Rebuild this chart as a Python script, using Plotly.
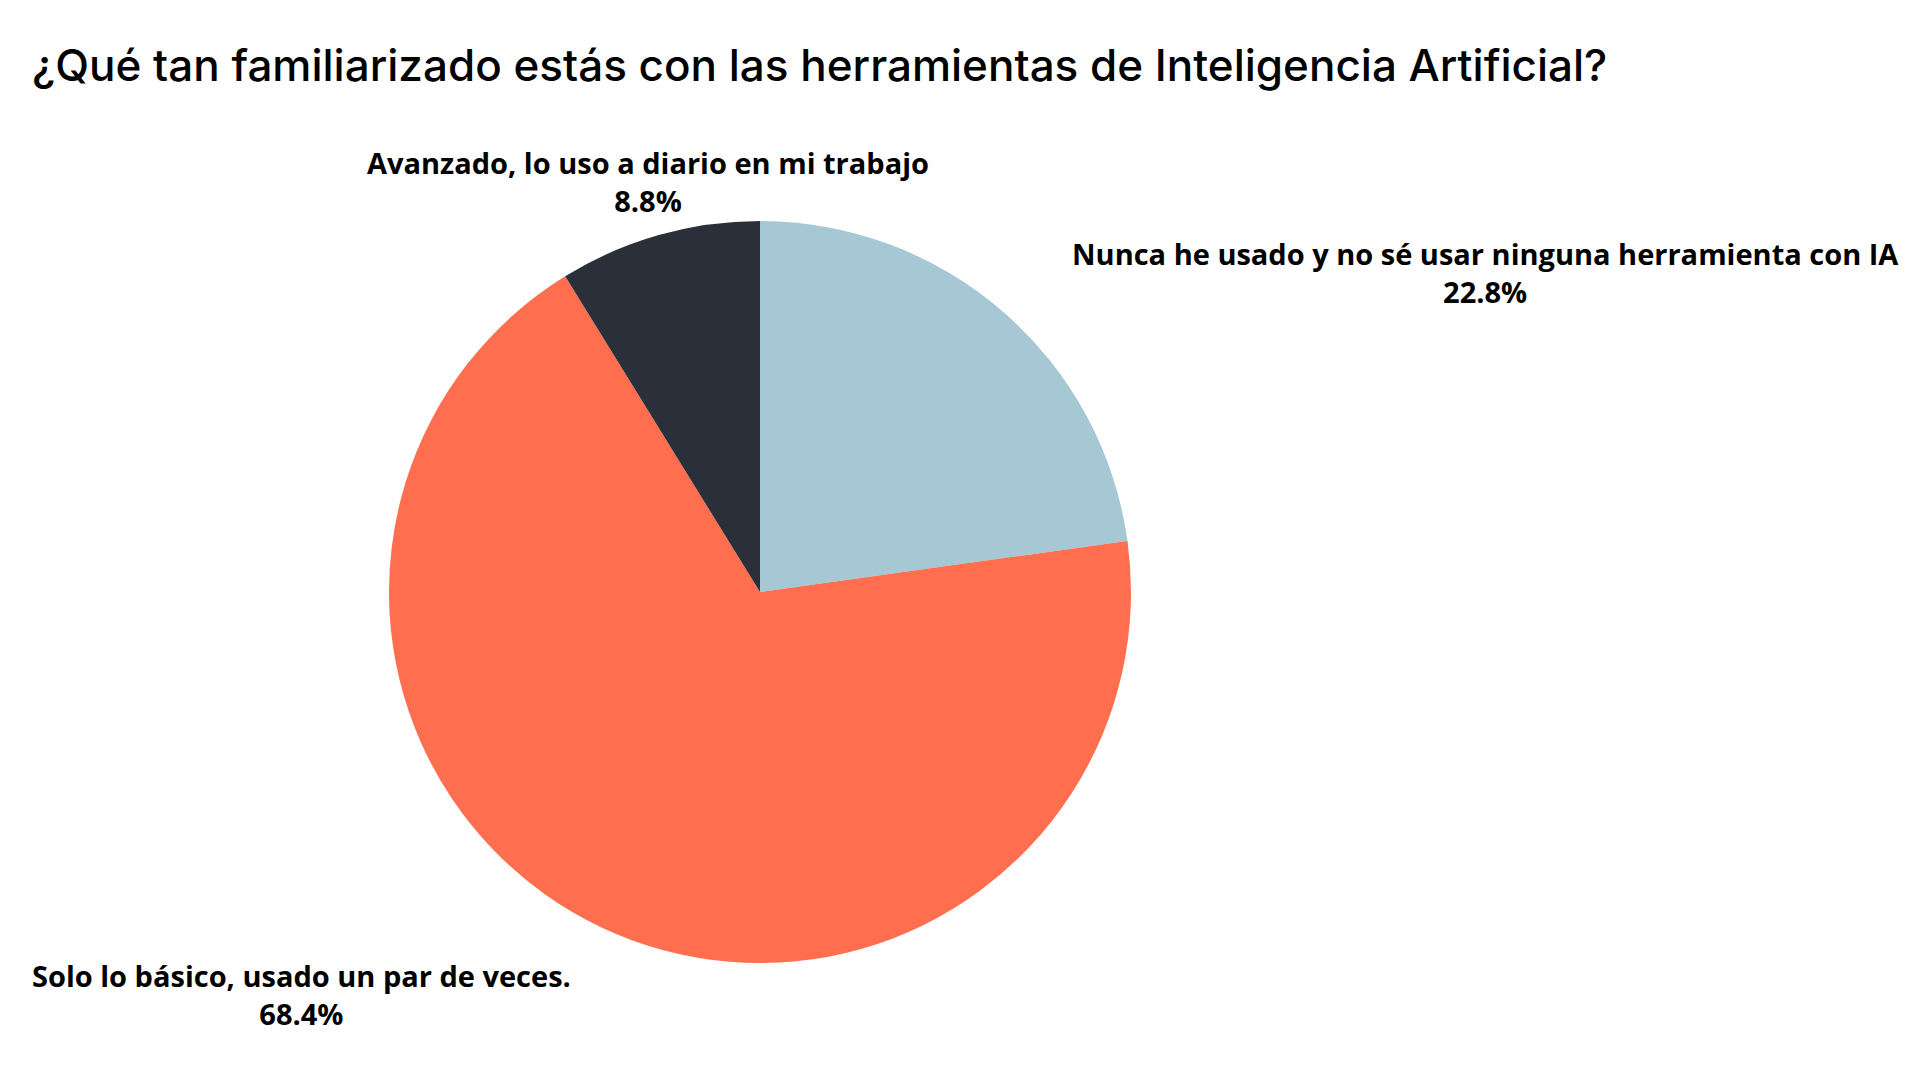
import plotly.graph_objects as go

labels = ["Nunca he usado y no sé usar ninguna herramienta con IA",
          "Solo lo básico, usado un par de veces.",
          "Avanzado, lo uso a diario en mi trabajo"]
values = [22.8, 68.4, 8.8]
colors = ["#A5C8D4", "#FF6F4F", "#2B2F3A"]
label_pos = [(1477, 264), (293, 986), (640, 174)]

W, H = 1920, 1080
fig = go.Figure(go.Pie(labels=labels, values=values, sort=False, direction="clockwise",
                       rotation=0, marker=dict(colors=colors), textinfo="none",
                       hoverinfo="label+percent", showlegend=False,
                       domain=dict(x=[381/W, 1123/W], y=[1-955/H, 1-213/H])))
for lab, v, (x, y) in zip(labels, values, label_pos):
    fig.add_annotation(x=x/W, y=1-y/H, xref="paper", yref="paper", showarrow=False,
                       xanchor="center", yanchor="middle",
                       text=f"<b>{lab}</b><br><b>{v}%</b>", align="center",
                       font=dict(family="Open Sans", size=29, color="black"))
fig.add_annotation(x=22/W, y=1-57/H, xref="paper", yref="paper", showarrow=False,
                   xanchor="left", yanchor="middle",
                   text="¿Qué tan familiarizado estás con las herramientas de Inteligencia Artificial?",
                   font=dict(family="Inter", size=44, color="black", weight=500))
fig.update_layout(width=W, height=H, margin=dict(l=0, r=0, t=0, b=0),
                  paper_bgcolor="white", plot_bgcolor="white")
fig.write_html("out.html")
